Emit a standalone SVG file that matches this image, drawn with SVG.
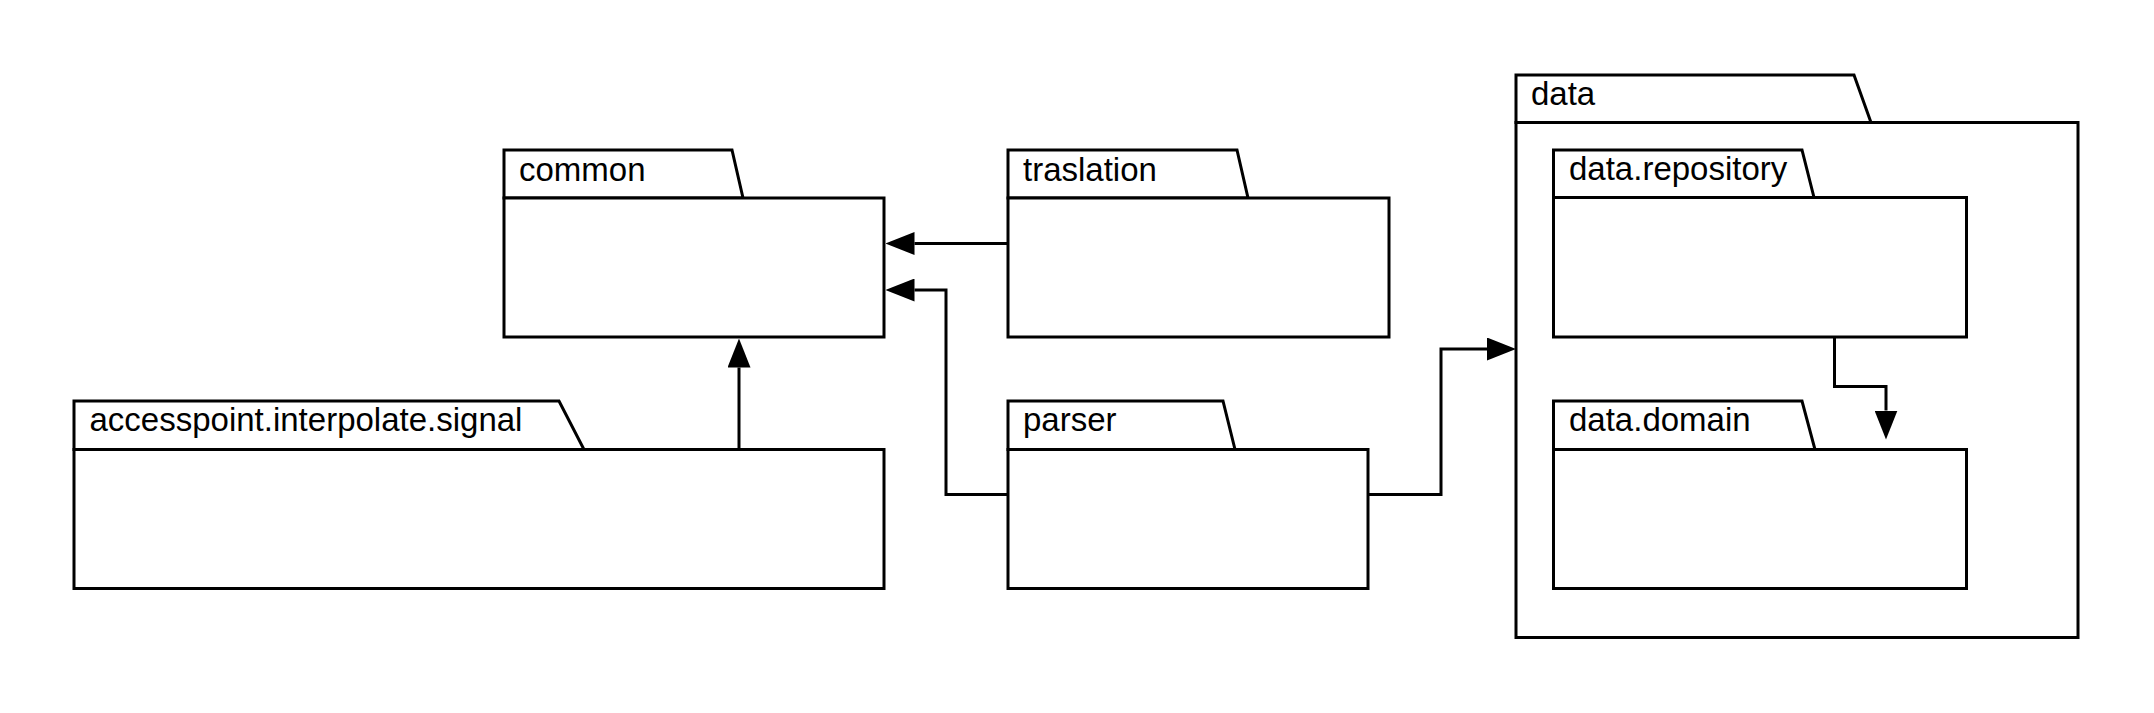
<svg xmlns="http://www.w3.org/2000/svg" width="2154" height="713" viewBox="0 0 2154 713">
<defs>
<style>
.box{fill:#fff;stroke:#000;stroke-width:3;stroke-linejoin:miter}
.lbl{font-family:"Liberation Sans",Arial,sans-serif;font-size:33px;fill:#000}
.edge{fill:none;stroke:#000;stroke-width:3;stroke-linejoin:miter}
</style>
<marker id="arr" viewBox="0 -11.5 29 23" refX="0" refY="0" markerWidth="29" markerHeight="23" markerUnits="userSpaceOnUse" orient="auto">
<path d="M0,-11.5 L29,0 L0,11.5 z" fill="#000"/>
</marker>
</defs>
<rect width="2154" height="713" fill="#fff"/>

<g id="data">
<polygon class="box" points="1516,122.5 1516,75 1854,75 1871,122.5"/>
<rect class="box" x="1516" y="122.5" width="562" height="515"/>
<text class="lbl" x="1531" y="105">data</text>
</g>

<g id="data-repository">
<polygon class="box" points="1553.5,197.5 1553.5,150 1802,150 1814,197.5"/>
<rect class="box" x="1553.5" y="197.5" width="413" height="139.5"/>
<text class="lbl" x="1569" y="180">data.repository</text>
</g>

<g id="data-domain">
<polygon class="box" points="1553.5,449.5 1553.5,401 1802,401 1815,449.5"/>
<rect class="box" x="1553.5" y="449.5" width="413" height="139"/>
<text class="lbl" x="1569" y="431">data.domain</text>
</g>

<g id="common">
<polygon class="box" points="504,198 504,150 732,150 743,198"/>
<rect class="box" x="504" y="198" width="380" height="139"/>
<text class="lbl" x="519" y="180.5">common</text>
</g>

<g id="traslation">
<polygon class="box" points="1008,198 1008,150 1237,150 1248,198"/>
<rect class="box" x="1008" y="198" width="381" height="139"/>
<text class="lbl" x="1023" y="180.5">traslation</text>
</g>

<g id="accesspoint-interpolate-signal">
<polygon class="box" points="74,449.5 74,401 559,401 584,449.5"/>
<rect class="box" x="74" y="449.5" width="810" height="139"/>
<text class="lbl" x="89.5" y="431">accesspoint.interpolate.signal</text>
</g>

<g id="parser">
<polygon class="box" points="1008,449.5 1008,401 1223,401 1235,449.5"/>
<rect class="box" x="1008" y="449.5" width="360" height="139"/>
<text class="lbl" x="1023" y="431">parser</text>
</g>

<g id="connectors">
<path class="edge" d="M1008,243.5 L914.5,243.5" marker-end="url(#arr)"/>
<path class="edge" d="M1008,494.5 L946,494.5 L946,290 L914.5,290" marker-end="url(#arr)"/>
<path class="edge" d="M739,449.5 L739,367.5" marker-end="url(#arr)"/>
<path class="edge" d="M1368,494.5 L1441,494.5 L1441,349 L1487,349" marker-end="url(#arr)"/>
<path class="edge" d="M1834.5,337 L1834.5,386.5 L1886,386.5 L1886,410.5" marker-end="url(#arr)"/>
</g>
</svg>
